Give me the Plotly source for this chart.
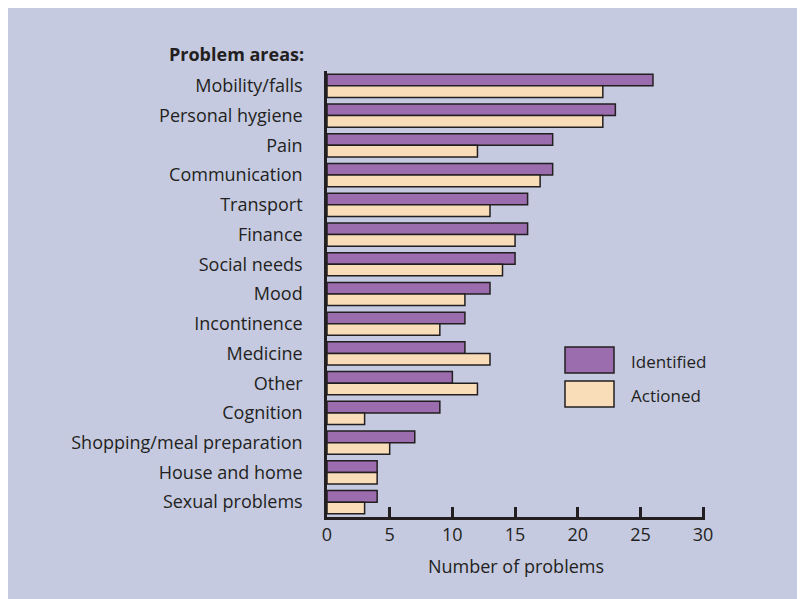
import plotly.graph_objects as go

categories = ["Mobility/falls", "Personal hygiene", "Pain", "Communication", "Transport",
              "Finance", "Social needs", "Mood", "Incontinence", "Medicine", "Other",
              "Cognition", "Shopping/meal preparation", "House and home", "Sexual problems"]
identified = [26, 23, 18, 18, 16, 16, 15, 13, 11, 11, 10, 9, 7, 4, 4]
actioned = [22, 22, 12, 17, 13, 15, 14, 11, 9, 13, 12, 3, 5, 4, 3]
x_ticks = [0, 5, 10, 15, 20, 25, 30]

PURPLE = "#9B6DAE"
BEIGE = "#F8DDB8"
BG = "#C5CAE0"
INK = "#231F20"
FONT = "Open Sans"

OFF = 8  # page body margin
W, H = 797, 591
ML, MR, MT, MB = 319, 100, 63, 82
PW, PH = W - ML - MR, H - MT - MB

def px_x(px):
    return (px - OFF - ML) / PW

def px_y(py):
    return (H - MB - (py - OFF)) / PH

fig = go.Figure()
fig.add_trace(go.Bar(y=categories, x=identified, orientation="h", name="Identified",
                     marker=dict(color=PURPLE, line=dict(color=INK, width=1.5)), showlegend=False))
fig.add_trace(go.Bar(y=categories, x=actioned, orientation="h", name="Actioned",
                     marker=dict(color=BEIGE, line=dict(color=INK, width=1.5)), showlegend=False))

shapes = [
    dict(type="rect", xref="paper", yref="paper", x0=px_x(565), x1=px_x(614), y0=px_y(373), y1=px_y(347),
         fillcolor=PURPLE, line=dict(color=INK, width=1.5)),
    dict(type="rect", xref="paper", yref="paper", x0=px_x(565), x1=px_x(614), y0=px_y(407), y1=px_y(381),
         fillcolor=BEIGE, line=dict(color=INK, width=1.5)),
]

annotations = [
    dict(text="<b>Problem areas:</b>", xref="paper", yref="paper", x=px_x(306), y=px_y(54),
         xanchor="right", yanchor="middle", showarrow=False, font=dict(size=18, color=INK, family=FONT)),
    dict(text="Identified", xref="paper", yref="paper", x=px_x(629), y=px_y(361),
         xanchor="left", yanchor="middle", showarrow=False, font=dict(size=17, color=INK, family=FONT)),
    dict(text="Actioned", xref="paper", yref="paper", x=px_x(629), y=px_y(395),
         xanchor="left", yanchor="middle", showarrow=False, font=dict(size=17, color=INK, family=FONT)),
]

fig.update_layout(
    width=W, height=H, autosize=False,
    margin=dict(l=ML, r=MR, t=MT, b=MB, pad=0),
    paper_bgcolor=BG, plot_bgcolor="rgba(0,0,0,0)",
    barmode="group", bargap=0.22, bargroupgap=0.0,
    font=dict(family=FONT, color=INK, size=18),
    shapes=shapes, annotations=annotations,
    xaxis=dict(range=[0, 30.15], tickvals=x_ticks, ticktext=[str(v) for v in x_ticks],
               showgrid=False, zeroline=False, showline=True, linecolor=INK, linewidth=2.5,
               ticks="inside", ticklen=10, tickwidth=2.5, tickcolor=INK,
               tickfont=dict(size=18, color=INK, family=FONT),
               title=dict(text="Number of problems", font=dict(size=18, color=INK, family=FONT), standoff=16)),
    yaxis=dict(autorange="reversed", showgrid=False, zeroline=False, showline=True,
               linecolor=INK, linewidth=2.5, ticks="", ticklabelstandoff=18,
               tickfont=dict(size=18, color=INK, family=FONT)),
)

fig.write_html("out.html")
